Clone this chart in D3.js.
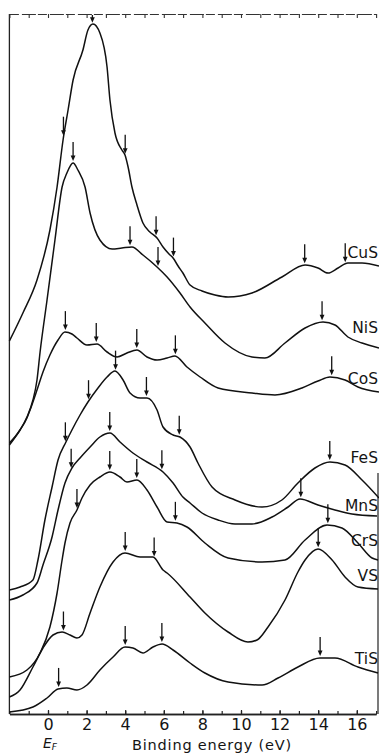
<!DOCTYPE html>
<html>
<head>
<meta charset="utf-8">
<script src="https://cdn.jsdelivr.net/npm/d3@7"></script>
<style>
body { margin: 0; background: #fff; }
svg text { font-family: "DejaVu Sans", sans-serif; fill: #141414; }
</style>
</head>
<body>
<div id="chart"></div>
<script>
// Valence band spectra of the 3d sulphides
// [binding energy (eV), intensity (arb. units, curves offset)]
var cuS = [[-2.0,373],[-1.30,401],[-0.57,434],[0.10,484],[0.47,527],[0.78,574],[1.04,604],[1.30,634],
  [1.81,664],[2.07,684],[2.33,690],[2.69,681],[3.06,647],[3.21,614],[3.47,581],[3.83,564],[3.99,559],
  [4.15,547],[4.35,527],[4.61,509],[4.92,491],[5.28,482],[5.65,476],[5.96,467],[6.27,460],[6.48,456],
  [6.74,448],[6.99,441],[7.36,429],[7.98,423],[8.65,419],[9.33,417],[10.57,421],[12.12,437],[13.32,449],
  [13.99,446],[14.51,441],[15.03,446],[15.54,451],[16.27,451],[17.15,448]];
var niS = [[-2.0,271],[-1.45,284],[-1.09,297],[-0.78,314],[-0.57,334],[-0.41,362],[-0.05,414],[0.36,474],
  [0.73,527],[0.98,541],[1.30,551],[1.55,544],[1.92,527],[2.18,501],[2.69,474],[3.32,465],[3.83,466],
  [4.35,467],[4.92,459],[5.65,447],[6.17,437],[6.84,421],[7.36,407],[8.13,391],[9.17,371],[10.57,357],
  [11.24,356],[12.28,371],[13.32,386],[14.25,392],[14.87,389],[15.54,377],[16.27,371],[17.15,366]];
var coS = [[-2.0,269],[-1.45,284],[-1.09,296],[-0.93,304],[-0.57,324],[-0.26,342],[0.10,359],[0.52,374],
  [0.88,382],[1.24,380],[1.50,376],[2.02,369],[2.54,370],[3.06,362],[3.58,357],[4.09,361],[4.61,364],
  [5.13,357],[5.65,354],[6.17,356],[6.58,358],[7.20,347],[7.88,337],[8.81,326],[10.57,321],[11.76,319],
  [13.16,326],[13.99,333],[14.61,337],[15.39,334],[16.06,327],[17.15,322]];
var feS = [[-2.0,124],[-1.45,127],[-0.78,134],[-0.52,154],[-0.16,194],[0.21,227],[0.52,254],[0.93,272],
  [1.24,284],[1.66,299],[2.07,312],[2.59,326],[3.06,337],[3.47,343],[3.89,334],[4.25,321],[4.77,316],
  [5.13,316],[5.65,304],[5.96,287],[6.48,279],[6.84,277],[7.36,267],[7.77,251],[8.50,227],[9.69,214],
  [11.09,207],[12.12,214],[12.95,231],[13.83,246],[14.61,252],[15.39,249],[16.27,234],[17.15,216]];
var mnS = [[-2.0,114],[-1.30,119],[-0.57,131],[-0.26,149],[0.21,177],[0.52,204],[0.88,231],[1.24,246],
  [1.66,256],[2.18,267],[2.69,277],[3.21,281],[3.73,272],[4.40,261],[5.13,252],[5.96,242],[6.48,231],
  [6.99,217],[7.36,211],[7.98,201],[8.81,194],[9.69,190],[10.57,190],[11.61,197],[12.44,207],[13.06,215],
  [13.99,209],[14.87,204],[15.75,200],[17.05,198]];
var crS = [[-2.0,37],[-1.09,44],[-0.41,61],[0.10,87],[0.47,121],[0.73,154],[0.88,171],[1.14,191],[1.50,204],
  [1.76,216],[2.18,229],[2.69,237],[3.21,242],[3.73,237],[4.09,232],[4.61,234],[5.13,224],[5.65,207],
  [6.17,192],[6.68,191],[7.20,187],[8.13,171],[9.33,156],[11.09,152],[12.28,154],[13.32,174],[14.46,189],
  [15.23,186],[16.06,171],[16.79,156],[17.10,154]];
var vS = [[-2.0,17],[-1.45,24],[-0.78,47],[-0.26,66],[0.26,79],[0.73,82],[1.14,79],[1.50,76],[1.76,79],
  [2.18,101],[2.69,127],[3.37,152],[3.99,161],[4.77,157],[5.44,157],[5.96,144],[6.17,141],[7.36,117],
  [8.13,101],[9.33,82],[10.36,72],[10.83,74],[11.40,87],[12.28,114],[12.95,142],[13.32,154],[13.99,165],
  [14.72,154],[15.39,137],[16.06,127],[17.10,125]];
var tiS = [[-2.0,2],[-0.78,7],[-0.05,16],[0.52,25],[0.98,26],[1.50,24],[2.02,29],[2.69,44],[3.37,57],
  [3.99,67],[4.40,66],[4.92,61],[5.44,67],[5.91,70],[6.48,64],[7.36,51],[8.13,41],[9.33,32],[11.09,29],
  [11.92,36],[12.95,47],[14.09,56],[14.87,56],[16.06,47],[17.10,41]];

// arrow marks (binding energy of the features, eV)
var cuSArrows = [0.8, 2.3, 4.0, 5.6, 6.5, 13.3, 15.4];
var niSArrows = [1.3, 4.25, 5.7, 14.2];
var coSArrows = [0.9, 2.5, 4.6, 6.6, 14.7];
var feSArrows = [0.9, 2.1, 3.5, 5.1, 6.8, 14.6];
var mnSArrows = [1.2, 3.2, 5.9, 13.1];
var crSArrows = [1.5, 3.2, 4.6, 6.6, 14.5];
var vSArrows = [0.8, 4.0, 5.5, 14.0];
var tiSArrows = [0.55, 4.0, 5.9, 14.1];

var names = ["CuS", "NiS", "CoS", "FeS", "MnS", "CrS", "VS", "TiS"];
var series = [cuS, niS, coS, feS, mnS, crS, vS, tiS];
var arrows = [cuSArrows, niSArrows, coSArrows, feSArrows, mnSArrows, crSArrows, vSArrows, tiSArrows];

var majorTicks = [0, 2, 4, 6, 8, 10, 12, 14, 16];

// layout
var width = 379, height = 754;
var labelLevel = [462, 387, 336, 257, 209, 174, 139, 56];

var x = d3.scaleLinear().domain([-2, 17]).range([9.4, 376.1]);
var y = d3.scaleLinear().domain([0, 700]).range([714, 14]);

var svg = d3.select("#chart").append("svg")
    .attr("width", width)
    .attr("height", height);

// frame lines
svg.append("line").attr("x1", x(-2)).attr("x2", x(-2)).attr("y1", y(700)).attr("y2", y(0))
    .attr("stroke", "#222").attr("stroke-width", 1.3);
svg.append("line").attr("x1", 378).attr("x2", 378).attr("y1", y(241)).attr("y2", y(0))
    .attr("stroke", "#222").attr("stroke-width", 1.2);

// bottom axis, ticks pointing up
var allTicks = d3.range(-2, 18);
var minorAxis = svg.append("g")
    .attr("transform", "translate(0," + y(0) + ")")
    .call(d3.axisBottom(x).tickValues(allTicks).tickSize(-3).tickSizeOuter(0).tickFormat(""));
var bottomAxis = svg.append("g")
    .attr("transform", "translate(0," + y(0) + ")")
    .call(d3.axisBottom(x).tickValues(majorTicks).tickSize(-4).tickSizeOuter(0).tickPadding(5));
bottomAxis.selectAll("text").style("font-size", "16px").attr("fill", "#141414");
svg.selectAll(".domain").attr("stroke", "#222").attr("stroke-width", 1.3);
svg.selectAll(".tick line").attr("stroke", "#222").attr("stroke-width", 1.2);

// top axis, ticks pointing down
var topAxis = svg.append("g")
    .attr("transform", "translate(0," + y(700) + ")")
    .call(d3.axisTop(x).tickValues(allTicks).tickSize(-4).tickSizeOuter(0).tickFormat(""));
topAxis.select(".domain").attr("stroke", "#333").attr("stroke-width", 1.1).attr("stroke-dasharray", "9,3,14,2");
topAxis.selectAll(".tick line").attr("stroke", "#333").attr("stroke-width", 1.1);

// spectra
var line = d3.line()
    .x(function (d) { return x(d[0]); })
    .y(function (d) { return y(d[1]); })
    .curve(d3.curveMonotoneX);

svg.selectAll(".spectrum")
    .data(series)
    .enter().append("path")
    .attr("class", "spectrum")
    .attr("d", line)
    .attr("fill", "none")
    .attr("stroke", "#111")
    .attr("stroke-width", 1.5);

// value of a spectrum at energy e (linear between read points)
function valueAt(pts, e) {
    var i = d3.bisector(function (d) { return d[0]; }).left(pts, e);
    if (i <= 0) return pts[0][1];
    if (i >= pts.length) return pts[pts.length - 1][1];
    var a = pts[i - 1], b = pts[i];
    return a[1] + (b[1] - a[1]) * (e - a[0]) / (b[0] - a[0]);
}

// arrows
series.forEach(function (pts, k) {
    arrows[k].forEach(function (e) {
        var ax = x(e);
        var tip = y(valueAt(pts, e)) - 2;
        var len = Math.min(19, tip - y(700) - 1);
        svg.append("line")
            .attr("x1", ax).attr("x2", ax)
            .attr("y1", tip - len).attr("y2", tip - 4)
            .attr("stroke", "#111").attr("stroke-width", 1.3);
        svg.append("path")
            .attr("d", "M" + (ax - 2.4) + "," + (tip - 5.5) + "L" + (ax + 2.4) + "," + (tip - 5.5) + "L" + ax + "," + tip + "Z")
            .attr("fill", "#111");
    });
});

// curve labels
svg.selectAll(".name")
    .data(names)
    .enter().append("text")
    .attr("class", "name")
    .attr("x", 378)
    .attr("y", function (d, i) { return y(labelLevel[i]) + 5.5; })
    .attr("text-anchor", "end")
    .style("font-size", "15.5px")
    .text(function (d) { return d; });

// axis titles
var ef = svg.append("text")
    .attr("x", x(0) - 5)
    .attr("y", 748)
    .style("font-size", "14px")
    .style("font-style", "italic");
ef.append("tspan").text("E");
ef.append("tspan").attr("dy", 2).style("font-size", "9px").text("F");

svg.append("text")
    .attr("x", 212)
    .attr("y", 750)
    .attr("text-anchor", "middle")
    .style("font-size", "14.5px")
    .style("letter-spacing", "0.8px")
    .text("Binding energy (eV)");
</script>
</body>
</html>
